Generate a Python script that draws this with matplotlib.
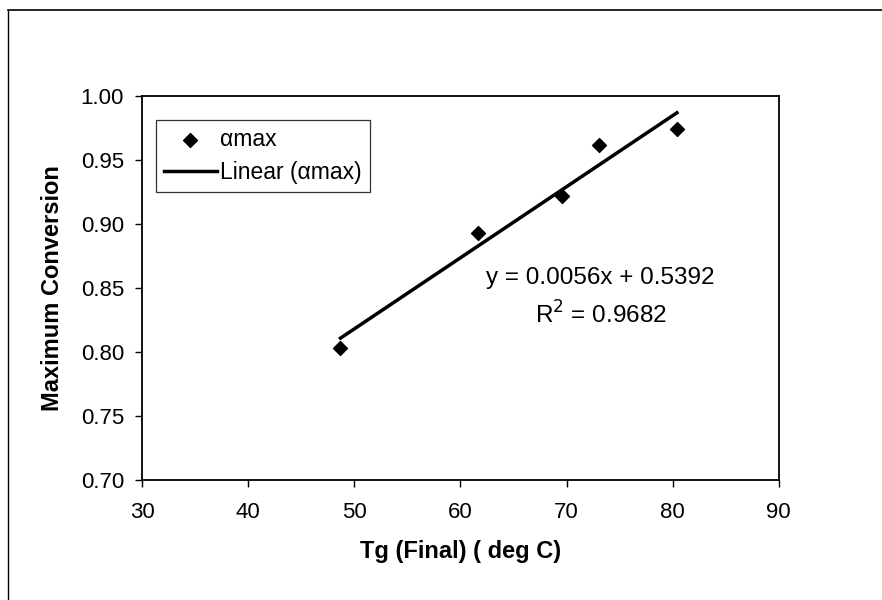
import numpy as np
import matplotlib
matplotlib.use("Agg")
import matplotlib.pyplot as plt
from matplotlib.lines import Line2D

plt.rcParams['font.family'] = ['Liberation Sans', 'DejaVu Sans']

# Tg (final) vs maximum conversion
tg = [48.7, 61.7, 69.6, 73.1, 80.4]
amax = [0.803, 0.893, 0.922, 0.962, 0.974]

eq_text = "y = 0.0056x + 0.5392"
r2_text = "R$^2$ = 0.9682"

fig = plt.figure(figsize=(8.82, 6), dpi=100)
ax = fig.add_axes([0.161, 0.2, 0.722, 0.64])

# outer frame (left and top only, like the scan)
fig.add_artist(Line2D([0.009, 1.0], [0.983, 0.983], color='black', lw=1.2))
fig.add_artist(Line2D([0.009, 0.009], [0.0, 0.983], color='black', lw=1.0))

ax.scatter(tg, amax, marker='D', s=50, color='black', zorder=3, label='αmax')

coef = np.polyfit(tg, amax, 1)
xs = np.array([min(tg), max(tg)])
ax.plot(xs, np.polyval(coef, xs), color='black', lw=2.5, label='Linear (αmax)')

ax.set_xlim(30, 90)
ax.set_ylim(0.70, 1.00)
ax.set_xticks(range(30, 91, 10))
ax.set_yticks(np.arange(0.70, 1.001, 0.05))
ax.yaxis.set_major_formatter(plt.FormatStrFormatter('%.2f'))
ax.tick_params(labelsize=16, length=5, width=1, direction='out')
ax.tick_params(axis='x', pad=11)
ax.tick_params(axis='y', pad=8)

for s in ax.spines.values():
    s.set_linewidth(1.3)

ax.set_xlabel('Tg (Final) ( deg C)', fontsize=17, fontweight='bold', labelpad=12)
ax.set_ylabel('Maximum Conversion', fontsize=17, fontweight='bold', labelpad=12)

ax.text(73.2, 0.858, eq_text, fontsize=17.5, ha='center', va='center')
ax.text(73.2, 0.829, r2_text, fontsize=17.5, ha='center', va='center')

leg = ax.legend(loc='lower left', bbox_to_anchor=(0.022, 0.75), fontsize=16.5,
                frameon=True, fancybox=False, edgecolor='black', handlelength=2.3,
                borderpad=0.35, labelspacing=0.45, handletextpad=0.15, borderaxespad=0)
leg.get_frame().set_linewidth(0.9)

fig.savefig('out.png', dpi=100)
